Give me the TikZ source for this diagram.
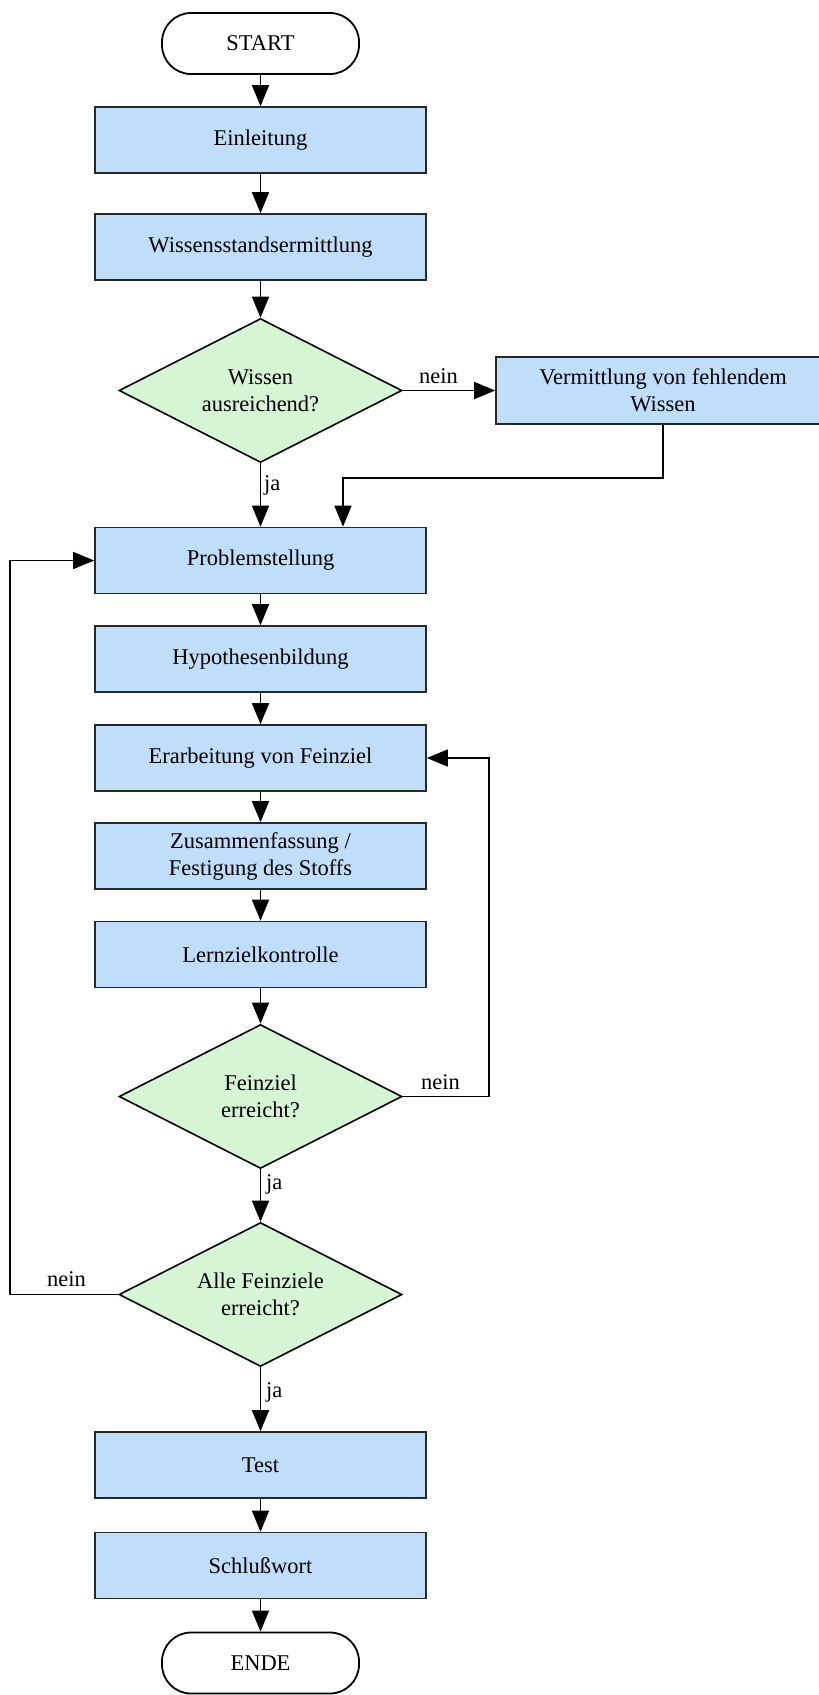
\documentclass[tikz,border=0pt]{standalone}
\usepackage{fontspec}
\setmainfont{Liberation Serif}
\usetikzlibrary{shapes.geometric,arrows.meta}
\definecolor{boxblue}{RGB}{192,222,250}
\definecolor{decgreen}{RGB}{213,245,213}
\definecolor{edgegray}{RGB}{40,40,40}
\begin{document}
\begin{tikzpicture}[x=1pt,y=-1pt,
  font=\fontsize{22.5}{27}\selectfont,
  stepbox/.style={draw=edgegray, line width=1.6pt, fill=boxblue, minimum width=331pt, minimum height=66pt, inner sep=0pt, align=center},
  term/.style={draw=black, line width=1.8pt, fill=white, minimum width=197pt, minimum height=61pt, rounded corners=29pt, inner sep=0pt},
  dec/.style={diamond, draw=black, line width=1.6pt, fill=decgreen, minimum width=283pt, minimum height=144pt, inner sep=0pt, aspect=2, align=center},
  arr/.style={line width=1.5pt, -{Triangle[length=21pt,width=17pt]}},
  lbl/.style={anchor=base west, inner sep=0pt}]
\clip (0,0) rectangle (819,1695);
\fill[white] (0,0) rectangle (819,1695);

\node[term] (start) at (260.5,43.5) {START};
\node[stepbox] (einl) at (260.5,140) {Einleitung};
\node[stepbox] (wiss) at (260.5,247) {Wissensstandsermittlung};
\node[dec] (d1) at (260.5,390.5) {Wissen\\ausreichend?};
\node[stepbox, minimum width=334pt, minimum height=67pt] (verm) at (663,390.5) {Vermittlung von fehlendem\\Wissen};
\node[stepbox] (prob) at (260.5,560.5) {Problemstellung};
\node[stepbox] (hypo) at (260.5,659) {Hypothesenbildung};
\node[stepbox] (erarb) at (260.5,758) {Erarbeitung von Feinziel};
\node[stepbox] (zus) at (260.5,856) {Zusammenfassung /\\Festigung des Stoffs};
\node[stepbox] (lern) at (260.5,954.5) {Lernzielkontrolle};
\node[dec] (d2) at (260.5,1096.5) {Feinziel\\erreicht?};
\node[dec] (d3) at (260.5,1294.5) {Alle Feinziele\\erreicht?};
\node[stepbox] (test) at (260.5,1465) {Test};
\node[stepbox] (schl) at (260.5,1565.5) {Schlußwort};
\node[term] (ende) at (260.5,1663) {ENDE};

\coordinate (j1) at (343,478);
\coordinate (rl) at (489,0);
\coordinate (ll) at (10,0);

\draw[arr] (start) -- (einl);
\draw[arr] (einl) -- (wiss);
\draw[arr] (wiss) -- (d1);
\draw[arr] (d1.east) -- (verm.west);
\draw[arr] (d1) -- (prob);
\draw[arr] (verm.south) |- (j1) -- (j1 |- prob.north);
\draw[arr] (prob) -- (hypo);
\draw[arr] (hypo) -- (erarb);
\draw[arr] (erarb) -- (zus);
\draw[arr] (zus) -- (lern);
\draw[arr] (lern) -- (d2);
\draw[arr] (d2) -- (d3);
\draw[arr] (d2.east) -- (d2.east -| rl) |- (erarb.east);
\draw[arr] (d3.west) -- (d3.west -| ll) |- (prob.west);
\draw[arr] (d3) -- (test);
\draw[arr] (test) -- (schl);
\draw[arr] (schl) -- (ende);

\node[lbl] (n1) at (419,383) {nein};
\node[lbl] (ja1) at (264,490) {ja};
\node[lbl] (n2) at (421,1089) {nein};
\node[lbl] (ja2) at (266,1189) {ja};
\node[lbl] (n3) at (47,1286) {nein};
\node[lbl] (ja3) at (266,1397) {ja};
\end{tikzpicture}
\end{document}
